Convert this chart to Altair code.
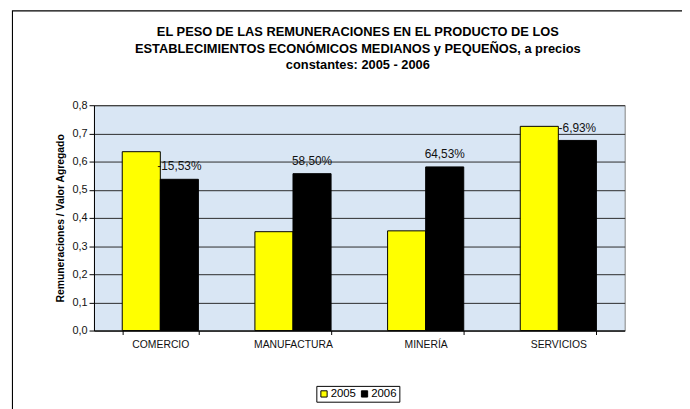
import altair as alt
import pandas as pd

categories = ["COMERCIO", "MANUFACTURA", "MINERÍA", "SERVICIOS"]
years = ["2005", "2006"]
values_2005 = [0.635, 0.351, 0.354, 0.725]
values_2006 = [0.537, 0.557, 0.581, 0.675]
labels_2006 = ["-15,53%", "58,50%", "64,53%", "-6,93%"]
y_ticks = [0.0, 0.1, 0.2, 0.3, 0.4, 0.5, 0.6, 0.7, 0.8]
title_lines = ["EL PESO DE LAS REMUNERACIONES EN EL PRODUCTO DE LOS",
               "ESTABLECIMIENTOS ECONÓMICOS MEDIANOS y PEQUEÑOS, a precios",
               "constantes: 2005 - 2006"]

rows = []
for i, c in enumerate(categories):
    rows.append({"cat": c, "year": "2005", "value": values_2005[i], "label": ""})
    rows.append({"cat": c, "year": "2006", "value": values_2006[i], "label": labels_2006[i]})
df = pd.DataFrame(rows)

FONT = "Liberation Sans"
W, H = 537, 228

x_enc = alt.X("cat:N", sort=categories,
              scale=alt.Scale(paddingInner=0.426, paddingOuter=0.213),
              axis=alt.Axis(title=None, labelAngle=0, tickBand="extent", domainColor="black",
                            tickColor="black", tickSize=4, labelPadding=5, labelFontSize=10.5,
                            labelFont=FONT, labelColor="#111", grid=False))
xo_enc = alt.XOffset("year:N", sort=years, scale=alt.Scale(paddingInner=0, paddingOuter=0))
y_enc = alt.Y("value:Q", scale=alt.Scale(domain=[0, 0.8], nice=False),
              axis=alt.Axis(title="Remuneraciones / Valor Agregado", values=y_ticks,
                            labelOverlap=False,
                            labelExpr="replace(format(datum.value, '.1f'), '.', ',')",
                            grid=True, gridColor="#2a2a2a", gridWidth=1, domainColor="black",
                            tickColor="black", tickSize=5, labelFontSize=11, labelFont=FONT,
                            labelColor="#111", titleFont=FONT, titleFontSize=10.5, titleFontWeight="bold",
                            titleColor="black", titlePadding=7, labelPadding=2))

bars = alt.Chart(df).mark_bar(stroke="black", strokeWidth=1).encode(
    x=x_enc,
    xOffset=xo_enc,
    y=y_enc,
    color=alt.Color("year:N", sort=years,
                    scale=alt.Scale(domain=years, range=["#FFFF00", "#000000"]),
                    legend=alt.Legend(title=None, orient="none", legendX=225, legendY=284,
                                      direction="horizontal", symbolType="square", symbolSize=40,
                                      symbolStrokeColor="black", symbolStrokeWidth=1,
                                      labelFont=FONT, labelFontSize=11.5, labelColor="black",
                                      strokeColor="black", padding=2, columnPadding=2,
                                      labelOffset=1, fillColor="white")),
)

texts = alt.Chart(df).mark_text(font=FONT, fontSize=12, color="#111", baseline="middle", dy=-13).encode(
    x=x_enc,
    xOffset=xo_enc,
    y=y_enc,
    text="label:N",
)

frame = alt.Chart(pd.DataFrame({"a": [0]})).mark_rect(fill=None, stroke="black", strokeWidth=1.1).encode(
    x=alt.value(-82.5), x2=alt.value(620), y=alt.value(-95.5), y2=alt.value(330)
)

title_layers = []
for k, line in enumerate(title_lines):
    title_layers.append(
        alt.Chart(pd.DataFrame({"t": [line]})).mark_text(
            font=FONT, fontSize=13, fontWeight="bold", color="black", baseline="middle", align="center"
        ).encode(text="t:N", x=alt.value(W / 2 - 1.5), y=alt.value(-74 + k * 16.7))
    )

chart = alt.layer(frame, bars, texts, *title_layers).properties(
    width=W, height=H,
    background="white",
    padding={"left": 87, "top": 96, "right": 58, "bottom": 77},
    autosize=alt.AutoSizeParams(type="none"),
).configure_view(fill="#D9E6F4", stroke="#808080", strokeWidth=1)

chart.save("out.html", embed_options={"renderer": "svg", "actions": False})
